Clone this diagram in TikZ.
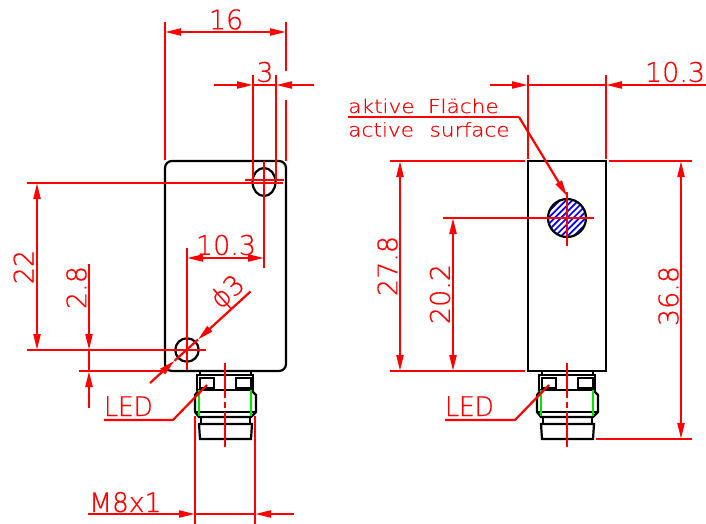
\documentclass[tikz,border=0pt]{standalone}
\usepackage{fontspec}
\setmainfont{DejaVu Sans}[UprightFont=* ExtraLight,FakeBold=0.5]
\usetikzlibrary{arrows.meta}

\definecolor{dimred}{RGB}{255,0,0}
\definecolor{ledgreen}{RGB}{0,230,0}
\tikzset{
  body/.style={black,line width=2.2pt},
  dimline/.style={dimred,line width=2.2pt},
  dimarrow/.style={dimline,-{Triangle[length=16pt,width=7pt]}},
  dimboth/.style={dimline,{Triangle[length=16pt,width=7pt]}-{Triangle[length=16pt,width=7pt]}},
  dimtext/.style={dimred,inner sep=0pt,font=\fontsize{27}{27}\selectfont},
  leadtext/.style={dimred,inner sep=0pt,anchor=base west,xscale=1.14,font=\fontsize{19}{19}\selectfont}
}

\begin{document}
\begin{tikzpicture}[x=1pt,y=-1pt]
  \useasboundingbox (0,0) rectangle (706,524);

  % housings
  \draw[body,rounded corners=7pt] (165,161) rectangle (286,371);
  \draw[body] (528,161) rectangle (606,371);

  % plugs
  \foreach \cx/\ledx in {225/104,567/445}{
    \draw[body] ({\cx-25},371) -- ({\cx-25},375) ({\cx+26},371) -- ({\cx+26},375);
    \draw[body] ({\cx-28},375) rectangle ({\cx+28},390);
    \draw[body] ({\cx-25},378) rectangle ({\cx-11},388);
    \draw[body] ({\cx+11},378) rectangle ({\cx+26},388);
    \draw[body] ({\cx-26},390) -- ({\cx-30},395) -- ({\cx-30},412) -- ({\cx-26},417)
      -- ({\cx+26},417) -- ({\cx+31},412) -- ({\cx+31},395) -- ({\cx+26},390);
    \draw[body] ({\cx-30},412) -- ({\cx+31},412);
    \draw[body] ({\cx-24},417) -- ({\cx-24},424) ({\cx+25},417) -- ({\cx+25},424);
    \draw[body] ({\cx-26},424) -- ({\cx+27},424) -- ({\cx+26},439) -- ({\cx-25},439) -- cycle;
    \draw[ledgreen,line width=2.2pt] ({\cx-26},390) -- ({\cx-26},416) ({\cx+26},390) -- ({\cx+26},416);
    % centre line
    \draw[dimline] (\cx,363) -- (\cx,398) (\cx,402) -- (\cx,408) (\cx,412) -- (\cx,447);
    % LED leader
    \node[dimtext,anchor=base west,xscale=.92] (led\cx) at (\ledx,416) {LED};
    \draw[dimline] (\ledx,420) -- ({\cx-52},420) -- ({\cx-18},385);
  }

  % left view, holes
  \draw[body] (264,182) ellipse (11.5 and 14);
  \draw[body] (187,350) circle (11.7);

  % left view, centre lines
  \draw[dimline] (27,183) -- (283,183);
  \draw[dimline] (245,180) -- (284,180);
  \draw[dimline] (264,161) -- (264,268);
  \draw[dimline] (27,350) -- (206,350);
  \draw[dimline] (187,248) -- (187,370);

  % left view, 16
  \draw[dimline] (165,22) -- (165,160);
  \draw[dimline] (286,22) -- (286,71) (286,100) -- (286,161);
  \draw[dimboth] (165,32) -- (286,32);
  \node[dimtext] (width) at (226,19.5) {16};

  % left view, 3
  \draw[dimline] (253,75) -- (253,180);
  \draw[dimline] (276,75) -- (276,180);
  \draw[dimarrow] (214,85) -- (253,85);
  \draw[dimarrow] (314,85) -- (276,85);
  \draw[dimline] (253,85) -- (276,85);
  \node[dimtext] (slot) at (265,72) {3};

  % left view, 10.3
  \draw[dimboth] (187,258) -- (264,258);
  \node[dimtext] (offset) at (226,245) {10.3};

  % left view, 22
  \draw[dimboth] (37,183) -- (37,350);
  \node[dimtext,rotate=90] (height) at (23.5,267) {22};

  % left view, 2.8
  \draw[dimline] (79,371) -- (165,371);
  \draw[dimarrow] (89,264) -- (89,350);
  \draw[dimarrow] (89,408) -- (89,371);
  \draw[dimline] (89,350) -- (89,371);
  \node[dimtext,rotate=90] (ledheight) at (76.5,287.5) {2.8};

  % left view, diameter
  \draw[dimarrow] (150,383) -- (174.5,360.8);
  \draw[dimarrow] (250.5,291.5) -- (198,339.5);
  \draw[dimline] (174.5,360.8) -- (198,339.5);
  \node[dimtext,rotate=42] (diameter) at (228.5,293) {ϕ3};

  % left view, M8x1
  \draw[dimline] (195,416) -- (195,524);
  \draw[dimline] (255,416) -- (255,524);
  \draw[dimarrow] (88,514) -- (195,514);
  \draw[dimarrow] (294,514) -- (255,514);
  \draw[dimline] (195,514) -- (255,514);
  \node[dimtext,anchor=base west,xscale=.98] (thread) at (89,512) {M8x1};

  % right view, active surface
  \begin{scope}
    \clip (567,218) circle (19);
    \fill[white] (547,198) rectangle (587,238);
    \foreach \k in {-5,...,5}
      \draw[blue,line width=1.7pt] ({567+\k*6.2-22},240) -- ({567+\k*6.2+22},196);
  \end{scope}
  \draw[body] (567,218) circle (19);
  \draw[dimline] (443,218) -- (594,218);
  \draw[dimline] (567,192) -- (567,246);

  % right view, 10.3
  \draw[dimline] (528,75) -- (528,159);
  \draw[dimline] (606,75) -- (606,159);
  \draw[dimarrow] (490,85) -- (528,85);
  \draw[dimarrow] (706,85) -- (606,85);
  \draw[dimline] (528,85) -- (606,85);
  \node[dimtext] (depth) at (675,72) {10.3};

  % right view, extension lines
  \draw[dimline] (390,161) -- (525,161);
  \draw[dimline] (609,161) -- (692,161);
  \draw[dimline] (390,371) -- (525,371);
  \draw[dimline] (596,439) -- (692,439);

  % right view, heights
  \draw[dimboth] (400,161) -- (400,371);
  \node[dimtext,rotate=90] (total) at (387.5,266) {27.8};
  \draw[dimboth] (453,218) -- (453,371);
  \node[dimtext,rotate=90] (sensor) at (440,294) {20.2};
  \draw[dimboth] (681,161) -- (681,439);
  \node[dimtext,rotate=90] (overall) at (668.5,296) {36.8};

  % right view, leader
  \coordinate (leadstart) at (348,117);
  \coordinate (leadknee) at (519,117);
  \coordinate (leadend) at (567,196);
  \draw[dimline] (leadstart) -- (leadknee);
  \draw[dimarrow] (leadknee) -- (leadend);
  \node[leadtext] (aktiv) at (348,113) {aktive\hspace{.3em} Fläche};
  \node[leadtext] (activ) at (348,136.5) {active\hspace{.4em} surface};
\end{tikzpicture}
\end{document}
